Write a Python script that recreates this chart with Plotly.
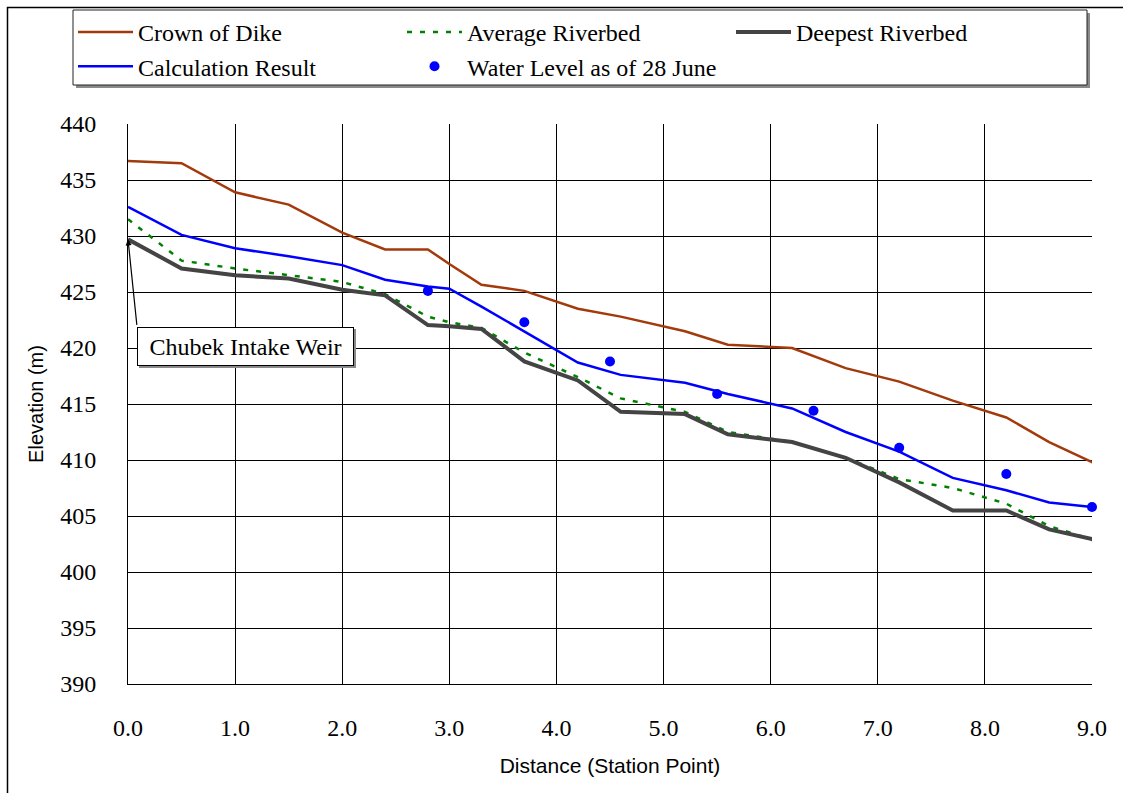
import plotly.graph_objects as go

# ---------------- data ----------------
stations = [0.0, 0.5, 1.0, 1.5, 2.0, 2.4, 2.8, 3.0, 3.3, 3.7, 4.2, 4.6,
            5.2, 5.6, 6.2, 6.7, 7.2, 7.7, 8.2, 8.6, 9.0, 9.2]
crown_of_dike = [436.7, 436.5, 433.9, 432.8, 430.3, 428.8, 428.8, 427.5, 425.65, 425.1, 423.5, 422.8,
                 421.5, 420.3, 420.0, 418.2, 417.0, 415.3, 413.8, 411.6, 409.8, 408.9]
average_riverbed = [431.5, 427.8, 427.1, 426.5, 425.9, 424.8, 422.8, 422.3, 421.8, 419.6, 417.4, 415.5,
                    414.3, 412.5, 411.6, 410.2, 408.3, 407.5, 406.1, 404.1, 402.9, 402.2]
deepest_riverbed = [429.7, 427.1, 426.5, 426.2, 425.2, 424.7, 422.05, 421.95, 421.7, 418.8, 417.1, 414.3,
                    414.1, 412.3, 411.6, 410.2, 408.0, 405.5, 405.5, 403.8, 402.95, 401.3]
calculation_result = [432.6, 430.1, 428.9, 428.2, 427.4, 426.1, 425.5, 425.3, 423.7, 421.5, 418.7, 417.6,
                      416.9, 415.9, 414.6, 412.5, 410.75, 408.4, 407.3, 406.2, 405.8, None]
water_level_x = [2.8, 3.7, 4.5, 5.5, 6.4, 7.2, 8.2, 9.0]
water_level = [425.1, 422.3, 418.8, 415.9, 414.4, 411.1, 408.75, 405.8]

x_ticks = [0, 1, 2, 3, 4, 5, 6, 7, 8, 9]
y_ticks = [390, 395, 400, 405, 410, 415, 420, 425, 430, 435, 440]

# ---------------- figure ----------------
W, H = 1123, 793
L, R, T, B = 128, 31, 124, 109
PW, PH = W - L - R, H - T - B


def px_x(p):
    return (p - L) / PW


def px_y(p):
    return (H - B - p) / PH


SERIF = "Liberation Serif, Times New Roman, serif"
SANS = "Liberation Sans, Arial, sans-serif"

fig = go.Figure()
fig.add_trace(go.Scatter(x=stations, y=crown_of_dike, mode="lines", name="Crown of Dike",
                         line=dict(color="#A33A0C", width=2.5)))
fig.add_trace(go.Scatter(x=stations, y=average_riverbed, mode="lines", name="Average Riverbed",
                         line=dict(color="#008000", width=2.5, dash="5px,8px")))
fig.add_trace(go.Scatter(x=stations, y=deepest_riverbed, mode="lines", name="Deepest Riverbed",
                         line=dict(color="#444444", width=4)))
fig.add_trace(go.Scatter(x=stations, y=calculation_result, mode="lines", name="Calculation Result",
                         line=dict(color="#0000FF", width=2.5)))
fig.add_trace(go.Scatter(x=water_level_x, y=water_level, mode="markers", name="Water Level as of 28 June",
                         marker=dict(color="#0000FF", size=10), cliponaxis=False))

fig.update_layout(
    width=W, height=H,
    margin=dict(l=L, r=R, t=T, b=B, autoexpand=False),
    paper_bgcolor="white", plot_bgcolor="white",
    font=dict(family=SERIF, size=24, color="black"),
    showlegend=True,
    legend=dict(
        orientation="h", x=px_x(73), y=px_y(10), xanchor="left", yanchor="top",
        bgcolor="rgba(0,0,0,0)", borderwidth=0,
        font=dict(family=SERIF, size=24, color="black"),
        entrywidth=259, entrywidthmode="pixels", itemwidth=55,
        tracegroupgap=0,
    ),
    xaxis=dict(
        range=[0, 9], tickvals=x_ticks, ticktext=[f"{v:.1f}" for v in x_ticks],
        showgrid=True, gridcolor="black", gridwidth=1,
        showline=True, linecolor="black", linewidth=1,
        zeroline=False, ticks="", ticklabelstandoff=22,
        tickfont=dict(family=SERIF, size=24, color="black"),
        title=dict(text="Distance (Station Point)", font=dict(family=SANS, size=21, color="black"),
                   standoff=18),
    ),
    yaxis=dict(
        range=[390, 440], tickvals=y_ticks, ticktext=[str(v) for v in y_ticks],
        showgrid=True, gridcolor="black", gridwidth=1,
        showline=True, linecolor="black", linewidth=1,
        zeroline=False, ticks="", ticklabelstandoff=26,
        tickfont=dict(family=SERIF, size=24, color="black"),
        title=dict(text="Elevation (m)", font=dict(family=SANS, size=20, color="black"),
                   standoff=11),
    ),
)

# outer chart frame (extends beyond the image at right/bottom)
fig.add_shape(type="rect", xref="paper", yref="paper",
              x0=px_x(7.5), x1=px_x(W + 20), y0=px_y(H + 20), y1=px_y(7.5),
              line=dict(color="black", width=1.5), fillcolor="rgba(0,0,0,0)", layer="below")

# legend frame with shadow
fig.add_shape(type="rect", xref="paper", yref="paper",
              x0=px_x(76), x1=px_x(1090), y0=px_y(88), y1=px_y(13),
              line=dict(width=0), fillcolor="#8a8a8a", layer="above")
fig.add_shape(type="rect", xref="paper", yref="paper",
              x0=px_x(73), x1=px_x(1087), y0=px_y(85), y1=px_y(10),
              line=dict(color="#222222", width=1), fillcolor="white", layer="above")

# shadow for label box
fig.add_shape(type="rect", xref="paper", yref="paper",
              x0=px_x(139), x1=px_x(356), y0=px_y(368), y1=px_y(329),
              line=dict(width=0), fillcolor="#8a8a8a", layer="above")

# arrow to the intake weir
fig.add_annotation(x=0, y=deepest_riverbed[0], xref="x", yref="y", text="",
                   showarrow=True, arrowhead=2, arrowsize=1, arrowwidth=1.2, arrowcolor="black",
                   ax=9, ay=87)
# label box
fig.add_annotation(x=px_x(137), y=px_y(327), xref="paper", yref="paper",
                   xanchor="left", yanchor="top", text="Chubek Intake Weir", showarrow=False,
                   width=209, height=31,
                   font=dict(family=SERIF, size=24, color="black"),
                   bgcolor="white", bordercolor="black", borderwidth=1, borderpad=3)

fig.write_html("out.html", config={"displayModeBar": False},
               post_script="document.body.style.margin='0px';document.body.style.overflow='hidden';")
